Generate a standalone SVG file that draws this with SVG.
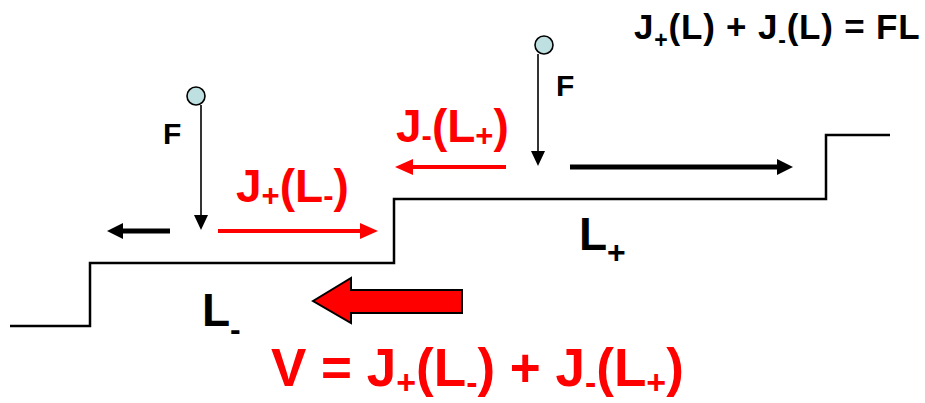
<svg xmlns="http://www.w3.org/2000/svg" width="925" height="403" viewBox="0 0 925 403">
<style>
text{font-family:"Liberation Sans",Arial,sans-serif;font-weight:bold}
.blk{fill:#000}
.red{fill:#ff0000}
.thin{stroke:#000;stroke-width:1.6;fill:none}
.thickb{stroke:#000;stroke-width:5;fill:none}
.thickr{stroke:#ff0000;stroke-width:4;fill:none}
.ball{fill:#bfe0e0;stroke:#000;stroke-width:1.6}
.step{stroke:#000;stroke-width:2.5;fill:none}
</style>
<defs>
<marker id="ahThin" markerUnits="userSpaceOnUse" viewBox="0 -7 15 14" markerWidth="15" markerHeight="14" refX="0" refY="0" orient="auto"><path d="M0,-7 L15,0 L0,7 z" fill="#000"/></marker>
<marker id="ahBlk" markerUnits="userSpaceOnUse" viewBox="0 -8 16 16" markerWidth="16" markerHeight="16" refX="0" refY="0" orient="auto"><path d="M0,-8 L16,0 L0,8 z" fill="#000"/></marker>
<marker id="ahRed" markerUnits="userSpaceOnUse" viewBox="0 -8 18 16" markerWidth="18" markerHeight="16" refX="0" refY="0" orient="auto"><path d="M0,-8 L18,0 L0,8 z" fill="#ff0000"/></marker>
</defs>

<g id="staircase">
<polyline class="step" points="10,326 90,326 90,263 394,263 394,199 826,199 826,135 890,135"/>
</g>

<g id="formula-top">
<text class="blk" x="634" y="39" font-size="35" letter-spacing="0.8">J<tspan font-size="23" dy="9">+</tspan><tspan dy="-9">(L) + J</tspan><tspan font-size="23" dy="9">-</tspan><tspan dy="-9">(L) = FL</tspan></text>
</g>

<g id="ball-left">
<circle class="ball" cx="196" cy="96" r="9"/>
<text class="blk" x="163" y="144" font-size="30">F</text>
</g>

<g id="ball-right">
<circle class="ball" cx="544" cy="45" r="9"/>
<text class="blk" x="556" y="96" font-size="30">F</text>
</g>

<g id="label-Jminus">
<text class="red" x="396" y="141.5" font-size="46">J<tspan font-size="31" dy="4">-</tspan><tspan dy="-4">(L</tspan><tspan font-size="31" dy="4">+</tspan><tspan dy="-4">)</tspan></text>
</g>

<g id="label-Jplus">
<text class="red" x="236" y="201.5" font-size="46">J<tspan font-size="31" dy="4">+</tspan><tspan dy="-4">(L</tspan><tspan font-size="31" dy="4">-</tspan><tspan dy="-4">)</tspan></text>
</g>

<g id="label-Lplus">
<text class="blk" x="579" y="250" font-size="46">L<tspan font-size="32" dy="13">+</tspan></text>
</g>

<g id="label-Lminus">
<text class="blk" x="202" y="326" font-size="46">L<tspan font-size="32" dy="14">-</tspan></text>
</g>

<g id="velocity-arrow">
<polygon points="313,301 351,278 351,290 462,290 462,313 351,313 351,323" fill="#ff0000" stroke="#000" stroke-width="2"/>
</g>

<g id="formula-bottom">
<text class="red" x="271" y="386" font-size="53">V = J<tspan font-size="34" dy="8">+</tspan><tspan dy="-8">(L</tspan><tspan font-size="34" dy="8">-</tspan><tspan dy="-8">) + J</tspan><tspan font-size="34" dy="8">-</tspan><tspan dy="-8">(L</tspan><tspan font-size="34" dy="8">+</tspan><tspan dy="-8">)</tspan></text>
</g>

<g id="connectors">
<line class="thin" x1="201" y1="105" x2="201" y2="215" marker-end="url(#ahThin)"/>
<line class="thin" x1="538" y1="54" x2="538" y2="151" marker-end="url(#ahThin)"/>
<line class="thickb" x1="170" y1="231" x2="123" y2="231" marker-end="url(#ahBlk)"/>
<line class="thickr" x1="218" y1="231" x2="360" y2="231" marker-end="url(#ahRed)"/>
<line class="thickr" x1="506" y1="167" x2="413" y2="167" marker-end="url(#ahRed)"/>
<line class="thickb" x1="570" y1="167" x2="777" y2="167" marker-end="url(#ahBlk)"/>
</g>
</svg>
